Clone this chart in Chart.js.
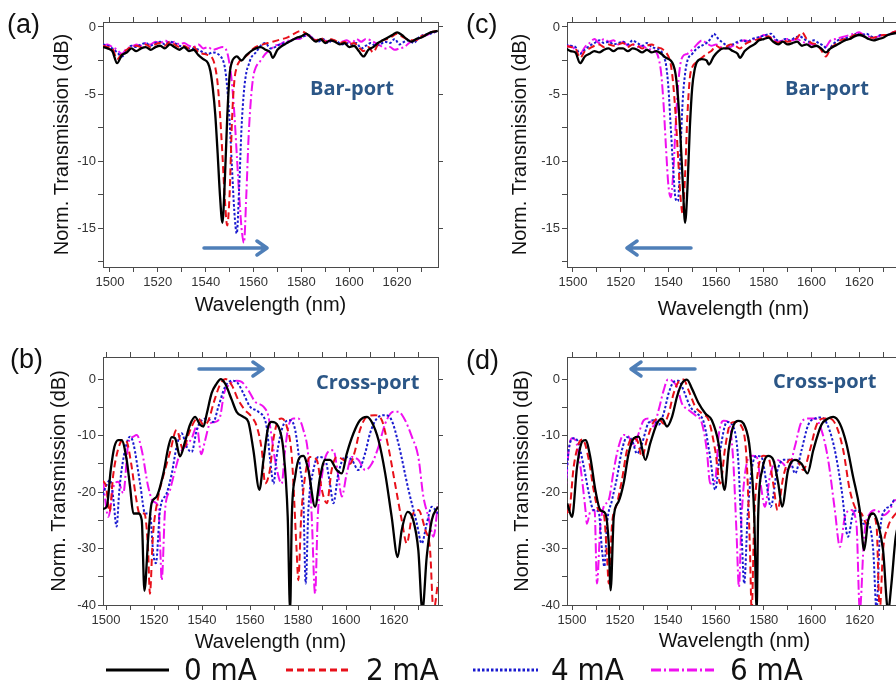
<!DOCTYPE html>
<html>
<head>
<meta charset="utf-8">
<script src="https://cdn.jsdelivr.net/npm/chart.js@4.4.1/dist/chart.umd.min.js"></script>
<style>
  html, body { margin: 0; padding: 0; background: #fff; overflow: hidden; }
  body { width: 896px; height: 685px; position: relative; }
  canvas { position: absolute; }
  .lbl { position: absolute; font-family: "Liberation Sans", Arial, sans-serif; font-size: 27px; color: #111; line-height: 30px; }
  .port { position: absolute; font-family: "Open Sans", sans-serif; font-weight: 700; font-size: 20px; color: #2b5686; line-height: 24px; white-space: nowrap; }
  .leg { position: absolute; font-family: "Liberation Sans Narrow", "DejaVu Sans Condensed", sans-serif; font-size: 31px; color: #111; line-height: 34px; top: 652px; }
  svg { position: absolute; left: 0; top: 0; }
</style>
</head>
<body>
<canvas id="pa" width="448" height="325" style="left:0;top:0"></canvas>
<canvas id="pc" width="446" height="325" style="left:464px;top:0"></canvas>
<canvas id="pb" width="448" height="330" style="left:0;top:330px"></canvas>
<canvas id="pd" width="448" height="330" style="left:464px;top:330px"></canvas>

<div class="lbl" style="left:7px;top:9px">(a)</div>
<div class="lbl" style="left:10px;top:344px">(b)</div>
<div class="lbl" style="left:466px;top:9px">(c)</div>
<div class="lbl" style="left:466px;top:345px">(d)</div>

<div class="port" style="left:310px;top:76px">Bar-port</div>
<div class="port" style="left:785px;top:76px">Bar-port</div>
<div class="port" style="left:316px;top:370px">Cross-port</div>
<div class="port" style="left:773px;top:369px">Cross-port</div>

<svg width="896" height="685">
  <g stroke="#4f7fb8" stroke-width="3.5" fill="none" stroke-linecap="round" stroke-linejoin="round">
    <path d="M204 248 L266 248 M257 241 L267 248 L257 255"/>
    <path d="M691 248 L628 248 M637 241 L627 248 L637 255"/>
    <path d="M199 369 L262 369 M253 362 L263 369 L253 376"/>
    <path d="M695 369 L632 369 M641 362 L631 369 L641 376"/>
  </g>
  <g stroke-width="3" fill="none">
    <line x1="106" y1="670" x2="169" y2="670" stroke="#000"/>
    <line x1="286" y1="670" x2="349" y2="670" stroke="#e8101a" stroke-dasharray="7 4"/>
    <line x1="473" y1="670" x2="538" y2="670" stroke="#1a1ad0" stroke-dasharray="2.5 2"/>
    <line x1="651" y1="670" x2="714" y2="670" stroke="#f010f0" stroke-dasharray="10 3 2 3"/>
  </g>
</svg>
<div class="leg" style="left:184px">0 mA</div>
<div class="leg" style="left:366px">2 mA</div>
<div class="leg" style="left:551px">4 mA</div>
<div class="leg" style="left:730px">6 mA</div>

<script>
// series names and tick labels
const currents = ['0 mA', '2 mA', '4 mA', '6 mA'];
const wlTicks = [1500, 1510, 1520, 1530, 1540, 1550, 1560, 1570, 1580, 1590, 1600, 1610, 1620, 1630];
const wlLabels = [1500, 1520, 1540, 1560, 1580, 1600, 1620];
const barTicks = [0, -2.5, -5, -7.5, -10, -12.5, -15, -17.5];
const barLabels = [0, -5, -10, -15];
const crossTicks = [0, -5, -10, -15, -20, -25, -30, -35, -40];
const crossLabels = [0, -10, -20, -30, -40];

// (a) bar-port, heating -> red shift   [wavelength nm, dB]
const barRed0 = [[1497,-1.5],[1499,-1.6],[1501,-1.8],[1503,-2.7],[1505,-2.1],[1507,-1.9],[1509,-1.6],[1511,-1.8],[1513,-1.6],[1515,-1.5],[1517,-1.7],[1519,-1.5],[1521,-1.4],[1523,-1.6],[1525,-1.3],[1527,-1.5],[1529,-1.7],[1531,-1.5],[1533,-1.8],[1535,-1.7],[1537,-2.1],[1539,-2.4],[1541,-2.7],[1542,-3.3],[1543,-4.6],[1544,-6.5],[1545,-9.4],[1546,-12.6],[1547,-14.6],[1548,-11.5],[1549,-6.8],[1550,-3.6],[1551,-2.6],[1552,-2.3],[1553,-2.2],[1555,-2.5],[1557,-2.1],[1559,-1.8],[1561,-1.6],[1563,-1.5],[1565,-1.7],[1567,-1.9],[1568,-2.3],[1570,-1.7],[1572,-1.4],[1574,-1.2],[1576,-1.0],[1578,-0.8],[1580,-0.7],[1582,-0.5],[1584,-0.8],[1586,-1.1],[1588,-0.9],[1590,-1.2],[1592,-1.0],[1594,-1.1],[1596,-1.3],[1598,-1.2],[1600,-1.5],[1602,-1.4],[1604,-1.8],[1606,-2.2],[1608,-1.7],[1610,-1.5],[1612,-1.2],[1614,-1.0],[1616,-0.8],[1618,-0.6],[1620,-0.4],[1622,-0.6],[1624,-0.9],[1626,-1.1],[1628,-0.9],[1630,-0.8],[1632,-0.6],[1634,-0.4],[1637,-0.3]];
const barRed2 = [[1497,-1.4],[1499,-1.5],[1501,-1.6],[1503,-2.4],[1505,-2.0],[1507,-1.7],[1509,-1.5],[1511,-1.4],[1513,-1.5],[1515,-1.3],[1517,-1.5],[1519,-1.3],[1521,-1.2],[1523,-1.4],[1525,-1.1],[1527,-1.3],[1529,-1.5],[1531,-1.4],[1533,-1.6],[1535,-1.5],[1537,-1.9],[1539,-2.0],[1541,-2.1],[1543,-2.4],[1544,-3.0],[1545,-4.2],[1546,-6.5],[1547,-9.5],[1548,-12.8],[1549,-14.8],[1550,-12.5],[1551,-7.0],[1552,-4.0],[1553,-3.0],[1554,-2.6],[1556,-2.3],[1558,-2.0],[1560,-1.6],[1562,-1.4],[1564,-1.3],[1566,-1.2],[1568,-1.1],[1570,-1.0],[1572,-0.9],[1574,-0.8],[1576,-0.6],[1578,-0.4],[1580,-0.3],[1582,-0.5],[1584,-0.8],[1586,-1.0],[1588,-0.8],[1590,-1.1],[1592,-0.9],[1594,-1.0],[1596,-1.2],[1598,-1.1],[1600,-1.3],[1602,-1.2],[1604,-1.5],[1606,-1.8],[1608,-1.5],[1610,-1.9],[1612,-1.3],[1614,-1.0],[1616,-0.9],[1618,-0.7],[1620,-0.5],[1622,-0.7],[1624,-0.9],[1626,-1.0],[1628,-1.0],[1630,-0.7],[1632,-0.6],[1634,-0.4],[1637,-0.3]];
const barRed4 = [[1497,-1.3],[1499,-1.4],[1501,-1.6],[1503,-1.9],[1505,-2.2],[1507,-1.8],[1509,-1.4],[1511,-1.5],[1513,-1.3],[1515,-1.2],[1517,-1.4],[1519,-1.2],[1521,-1.1],[1523,-1.3],[1525,-1.1],[1527,-1.2],[1529,-1.4],[1531,-1.5],[1533,-1.6],[1535,-1.6],[1537,-1.7],[1539,-1.9],[1541,-2.0],[1543,-1.9],[1545,-2.0],[1547,-2.4],[1548,-3.0],[1549,-4.5],[1550,-7.0],[1551,-10.5],[1552,-13.8],[1553,-15.4],[1554,-12.0],[1555,-7.5],[1556,-4.8],[1557,-3.4],[1558,-2.8],[1559,-2.3],[1561,-1.9],[1563,-1.4],[1565,-1.2],[1567,-1.6],[1569,-1.5],[1571,-1.3],[1573,-1.2],[1575,-1.1],[1577,-0.9],[1579,-0.8],[1581,-0.7],[1583,-0.6],[1585,-0.9],[1587,-1.1],[1589,-0.9],[1591,-1.2],[1593,-1.0],[1595,-1.1],[1597,-1.3],[1599,-1.2],[1601,-1.3],[1603,-1.2],[1605,-1.6],[1607,-1.4],[1609,-1.2],[1611,-1.4],[1613,-1.3],[1615,-1.1],[1617,-1.2],[1619,-0.9],[1621,-1.3],[1623,-1.1],[1625,-1.0],[1627,-1.2],[1629,-0.8],[1631,-0.6],[1634,-0.5],[1637,-0.3]];
const barRed6 = [[1497,-1.4],[1499,-1.3],[1501,-1.5],[1503,-1.7],[1505,-2.0],[1507,-1.6],[1509,-1.5],[1511,-1.3],[1513,-1.4],[1515,-1.2],[1517,-1.3],[1519,-1.1],[1521,-1.2],[1523,-1.0],[1525,-1.2],[1527,-1.1],[1529,-1.3],[1531,-1.2],[1533,-1.4],[1535,-1.5],[1537,-1.3],[1539,-1.6],[1541,-1.5],[1543,-1.7],[1545,-1.6],[1547,-1.5],[1549,-1.9],[1550,-2.8],[1551,-4.2],[1552,-6.5],[1553,-9.5],[1554,-12.5],[1555,-15.0],[1556,-16.1],[1557,-12.5],[1558,-8.0],[1559,-5.2],[1560,-3.6],[1561,-3.0],[1563,-2.5],[1565,-2.0],[1567,-1.7],[1569,-1.4],[1571,-1.3],[1573,-1.1],[1575,-1.0],[1577,-0.9],[1579,-0.9],[1581,-0.7],[1583,-0.6],[1585,-0.9],[1587,-1.0],[1589,-0.9],[1591,-1.1],[1593,-1.0],[1595,-1.2],[1597,-1.1],[1599,-1.0],[1601,-1.2],[1603,-0.9],[1605,-1.1],[1607,-0.9],[1609,-1.0],[1611,-1.2],[1613,-1.4],[1615,-1.6],[1617,-1.5],[1619,-1.7],[1621,-1.6],[1623,-1.5],[1625,-1.2],[1627,-1.0],[1629,-0.9],[1631,-0.7],[1634,-0.5],[1637,-0.3]];

// (c) bar-port, blue shift
const barBlue0 = [[1497,-1.6],[1499,-1.8],[1501,-1.9],[1503,-2.7],[1505,-2.2],[1507,-2.0],[1509,-1.8],[1511,-1.9],[1513,-1.7],[1515,-1.6],[1517,-1.8],[1519,-1.6],[1521,-1.6],[1523,-1.8],[1525,-1.6],[1527,-1.7],[1529,-1.9],[1531,-1.7],[1533,-1.9],[1535,-1.8],[1537,-2.0],[1539,-2.3],[1541,-2.5],[1542,-2.8],[1543,-3.5],[1544,-5.2],[1545,-8.0],[1546,-11.5],[1547,-14.6],[1548,-12.0],[1549,-7.5],[1550,-4.5],[1551,-3.2],[1552,-2.6],[1554,-2.4],[1556,-2.5],[1557,-2.8],[1559,-2.2],[1561,-1.8],[1563,-1.6],[1565,-1.6],[1567,-1.8],[1569,-2.0],[1570,-2.3],[1572,-1.8],[1574,-1.5],[1576,-1.3],[1578,-1.0],[1580,-0.9],[1582,-0.8],[1584,-1.1],[1586,-1.3],[1588,-1.1],[1590,-1.3],[1592,-1.2],[1594,-1.1],[1596,-1.4],[1598,-1.3],[1600,-1.5],[1602,-1.4],[1604,-1.6],[1606,-1.9],[1608,-1.6],[1610,-1.4],[1612,-1.2],[1614,-1.0],[1616,-0.9],[1618,-0.7],[1620,-0.6],[1622,-0.7],[1624,-0.9],[1626,-1.0],[1628,-0.9],[1630,-0.8],[1632,-0.6],[1634,-0.5],[1637,-0.4]];
const barBlue2 = [[1497,-1.4],[1499,-1.5],[1501,-1.6],[1503,-2.3],[1505,-1.8],[1507,-1.6],[1509,-1.4],[1511,-1.3],[1513,-1.5],[1515,-1.3],[1517,-1.4],[1519,-1.3],[1521,-1.2],[1523,-1.5],[1525,-1.3],[1527,-1.4],[1529,-1.6],[1531,-1.4],[1533,-1.3],[1535,-1.5],[1537,-1.6],[1539,-1.9],[1540,-2.2],[1541,-2.8],[1542,-4.2],[1543,-6.5],[1544,-9.5],[1545,-12.5],[1546,-13.9],[1547,-11.0],[1548,-6.5],[1549,-3.8],[1550,-3.0],[1552,-2.6],[1554,-2.3],[1556,-2.0],[1558,-1.8],[1560,-1.4],[1562,-1.6],[1564,-1.5],[1566,-1.3],[1568,-1.4],[1570,-1.6],[1572,-1.3],[1574,-1.1],[1576,-1.0],[1578,-0.9],[1580,-0.8],[1582,-0.7],[1584,-1.0],[1586,-1.2],[1588,-1.0],[1590,-1.1],[1592,-1.0],[1594,-0.8],[1596,-0.4],[1598,-0.9],[1600,-1.2],[1602,-1.3],[1604,-1.7],[1606,-2.2],[1608,-1.6],[1610,-1.3],[1612,-1.0],[1614,-0.9],[1616,-0.8],[1618,-0.6],[1620,-0.5],[1622,-0.7],[1624,-0.8],[1626,-0.8],[1628,-0.7],[1630,-0.6],[1632,-0.6],[1634,-0.4],[1637,-0.3]];
const barBlue4 = [[1497,-1.3],[1499,-1.4],[1501,-1.5],[1503,-2.0],[1505,-1.7],[1507,-1.4],[1509,-1.2],[1511,-1.0],[1513,-1.2],[1515,-1.1],[1517,-1.3],[1519,-1.2],[1521,-1.1],[1523,-1.3],[1525,-1.0],[1527,-1.2],[1529,-1.4],[1531,-1.2],[1533,-1.5],[1535,-1.6],[1537,-1.8],[1538,-2.2],[1539,-2.8],[1540,-4.5],[1541,-7.5],[1542,-10.5],[1543,-12.8],[1544,-13.0],[1545,-9.5],[1546,-5.5],[1547,-3.5],[1548,-2.5],[1550,-2.0],[1552,-1.6],[1554,-1.4],[1556,-1.2],[1558,-0.8],[1559,-0.5],[1561,-0.9],[1563,-1.2],[1565,-1.4],[1567,-1.3],[1569,-1.1],[1571,-1.0],[1573,-1.1],[1575,-0.9],[1577,-0.8],[1579,-0.7],[1581,-0.6],[1583,-0.5],[1585,-0.9],[1587,-1.1],[1589,-0.9],[1591,-1.0],[1593,-0.8],[1595,-0.7],[1597,-0.9],[1599,-1.1],[1601,-1.0],[1603,-1.2],[1605,-1.4],[1607,-1.7],[1609,-1.3],[1611,-1.0],[1613,-0.9],[1615,-0.8],[1617,-0.7],[1619,-0.5],[1621,-0.6],[1623,-0.5],[1625,-0.7],[1627,-0.8],[1629,-0.6],[1631,-0.6],[1634,-0.5],[1637,-0.3]];
const barBlue6 = [[1497,-1.5],[1499,-1.4],[1501,-1.7],[1503,-2.0],[1505,-1.5],[1507,-1.2],[1509,-0.9],[1511,-1.2],[1513,-0.9],[1515,-1.1],[1517,-1.0],[1519,-1.3],[1521,-1.1],[1523,-1.4],[1525,-1.3],[1527,-1.5],[1529,-1.4],[1531,-1.6],[1533,-1.7],[1535,-1.9],[1536,-2.4],[1537,-3.5],[1538,-5.8],[1539,-9.0],[1540,-11.8],[1541,-12.7],[1542,-11.0],[1543,-7.5],[1544,-4.5],[1545,-2.8],[1546,-2.2],[1548,-2.0],[1550,-1.7],[1552,-1.3],[1554,-1.0],[1556,-1.2],[1558,-1.4],[1560,-1.3],[1562,-1.5],[1564,-1.6],[1566,-1.5],[1568,-1.3],[1570,-1.1],[1572,-1.0],[1574,-1.1],[1576,-0.9],[1578,-0.8],[1580,-0.6],[1582,-0.7],[1584,-0.9],[1586,-1.1],[1588,-1.0],[1590,-0.9],[1592,-1.0],[1594,-0.9],[1596,-1.1],[1598,-1.2],[1600,-1.3],[1602,-1.4],[1604,-1.6],[1606,-1.5],[1608,-1.0],[1610,-0.9],[1612,-0.8],[1614,-0.7],[1616,-0.6],[1618,-0.5],[1620,-0.4],[1622,-0.6],[1624,-0.7],[1626,-0.8],[1628,-0.7],[1630,-0.6],[1632,-0.6],[1634,-0.4],[1637,-0.3]];

// (b) cross-port, red shift
const crossRed0 = [[1498.7,-23],[1500.3,-22.6],[1502,-16],[1503.5,-12],[1505.1,-10.8],[1506.5,-10.8],[1508.6,-14.3],[1510,-19],[1511.4,-23.8],[1513.5,-23.8],[1514.9,-25],[1516,-37.5],[1517.6,-28],[1519,-22],[1521.1,-20.8],[1523.9,-16.7],[1526,-12],[1527.4,-10.3],[1528.8,-10.5],[1530.8,-13.7],[1532.9,-11.1],[1535,-8.1],[1537.1,-6.7],[1539.2,-8.1],[1540.6,-8.4],[1542,-6.1],[1544,-2.5],[1546.1,-0.8],[1547.8,0],[1549.6,-0.8],[1552.4,-3.7],[1554.4,-5.8],[1557.2,-6.7],[1559.3,-7.6],[1561.4,-12.6],[1563.9,-19.6],[1565.6,-14.3],[1567.6,-8.4],[1569,-7.6],[1571.8,-8.4],[1573.9,-12.6],[1575.7,-24.4],[1576.7,-41],[1577.4,-24.4],[1578.8,-17.3],[1580.8,-13.8],[1582.2,-13.6],[1584.3,-16.1],[1587.1,-22.6],[1589.2,-17.3],[1591.3,-14.3],[1593.3,-14.3],[1596.1,-16.1],[1598.2,-16.7],[1600.3,-13.2],[1603.1,-9.6],[1605.8,-7.3],[1608.6,-6.7],[1610.7,-7.6],[1613.5,-10.8],[1616.3,-16.7],[1619,-24.4],[1621.5,-31.5],[1623.2,-26.7],[1625.7,-23.5],[1628,-25],[1630.1,-30.3],[1631.8,-41],[1633.6,-31.5],[1635.7,-25],[1638.3,-22.6]];
const crossRed2 = [[1498.7,-18],[1500,-19],[1501.5,-23.5],[1503,-17],[1505,-12.5],[1507,-10.8],[1508.5,-11],[1510.5,-15],[1512.5,-21],[1514,-23.8],[1516,-23.8],[1517.5,-30],[1518.3,-38],[1519.5,-28],[1521.8,-20.8],[1524,-17],[1526.7,-12.9],[1529.4,-9],[1532.2,-12.6],[1534.3,-9.9],[1537.1,-7.3],[1538.5,-7],[1540.6,-8.1],[1542.5,-7.5],[1545,-4],[1547.5,-1],[1549.8,0],[1552.4,-1.1],[1555.1,-3.7],[1557.9,-5.5],[1560.7,-6.7],[1562.8,-8.4],[1564.9,-12.6],[1566.3,-18.5],[1568.3,-16],[1569.7,-10.8],[1571.8,-7.3],[1573.2,-7],[1575.3,-8.4],[1577.4,-13.8],[1579.4,-30.3],[1580.1,-35.6],[1581.3,-24.4],[1582.9,-17.3],[1585,-13.8],[1587.8,-14.3],[1589.9,-19.6],[1592,-22],[1594,-16.1],[1596.1,-13.8],[1598.9,-14.3],[1601.7,-15],[1603.8,-12.6],[1605.8,-9],[1608.6,-6.7],[1612.1,-6.4],[1614.9,-7.3],[1617.6,-12],[1620.4,-18.5],[1623.2,-25],[1625.3,-29.1],[1627.4,-24.4],[1630.1,-23.2],[1633,-26.7],[1635,-30.3],[1636.4,-41],[1638.3,-36]];
const crossRed4 = [[1498.7,-20.5],[1500,-19],[1501.7,-17.9],[1503,-21],[1504.4,-26.1],[1505.5,-20],[1506.5,-16.1],[1508.6,-11.4],[1510,-10.2],[1511.4,-11.4],[1514.2,-18.5],[1516.3,-23.8],[1518.3,-23.8],[1519.7,-30.9],[1520.8,-32.6],[1522.5,-23.2],[1525.3,-20.2],[1527.4,-16.7],[1529.4,-12],[1531.5,-9.6],[1533.6,-12],[1535.7,-12.9],[1537.8,-9],[1539.9,-7.3],[1542,-7],[1544.7,-7.6],[1546.8,-4.9],[1549.6,-1.4],[1552.4,-0.3],[1554.4,-0.5],[1557.2,-2.5],[1560,-4.9],[1563.5,-5.8],[1566.9,-8.4],[1568.3,-14],[1569.8,-18.5],[1571,-14],[1572.5,-10.2],[1574.6,-7.6],[1576.7,-7.3],[1578.8,-9],[1580.8,-15.5],[1582.2,-21.4],[1583.2,-36.2],[1584.3,-23.2],[1586.4,-16.1],[1588.5,-13.8],[1591.3,-14.3],[1593.3,-18.5],[1594.7,-22],[1596.8,-16.7],[1599.6,-13.8],[1602.4,-14.3],[1605.1,-16.1],[1607.9,-13.2],[1610,-9.6],[1612.8,-7],[1616.3,-6.4],[1619,-7.3],[1621.8,-11.4],[1626,-19.6],[1629.5,-25.6],[1631.5,-29.1],[1633.6,-25.6],[1635.7,-22.6],[1638.3,-23.8]];
const crossRed6 = [[1498.7,-18],[1501,-24.4],[1503.1,-19.1],[1505.1,-18.2],[1507.2,-20.2],[1509.3,-11.4],[1511.4,-10.2],[1512.8,-9.9],[1514.9,-12.6],[1517.6,-19.1],[1519.7,-21.7],[1521.8,-22.6],[1522.6,-30],[1523.2,-35.6],[1524.6,-23.2],[1526.7,-19.6],[1528.8,-16.1],[1530.8,-13.2],[1532.9,-12],[1535.7,-10.5],[1537.8,-8.4],[1539.7,-13.3],[1541.2,-11],[1543.3,-7.9],[1545.4,-7.6],[1547.5,-6.7],[1549.2,-2.5],[1551,-1.1],[1554.4,-0.3],[1556.5,-0.5],[1559.3,-2],[1562.1,-4],[1565.6,-4.9],[1567.6,-6.5],[1569,-10.2],[1570.4,-14.3],[1573.2,-18.5],[1574.5,-13],[1576,-8.4],[1578.1,-7],[1580.1,-7],[1582.2,-9],[1584.3,-13.8],[1585.7,-24.4],[1587.1,-38],[1588.2,-24.4],[1589.9,-17.3],[1592,-13.2],[1594.7,-12.6],[1596.8,-17.3],[1598.2,-20.8],[1600.3,-16.7],[1602.4,-13.8],[1605.1,-14.3],[1608,-16.1],[1610.7,-15],[1613.5,-12],[1616.3,-7.9],[1619.7,-5.8],[1621.8,-5.8],[1624.6,-7.3],[1627.4,-10.2],[1630.1,-13.8],[1632.2,-20.8],[1634.3,-24.4],[1636.4,-27.9],[1638.3,-22]];

// (d) cross-port, blue shift
const crossBlue0 = [[1498,-22],[1500,-24.4],[1502.1,-15.5],[1504.2,-11.1],[1505.6,-10.8],[1507.6,-13.8],[1509.7,-19.6],[1511.8,-23.2],[1513.9,-23.8],[1515.3,-29.1],[1516.1,-37.4],[1517.4,-24.4],[1519.4,-21.7],[1521.5,-18.5],[1523.6,-13.2],[1525.7,-10.5],[1527.8,-10.2],[1530.6,-14.3],[1532.6,-11.4],[1535.4,-7.9],[1537.5,-7],[1539.6,-8.4],[1541.7,-6.7],[1543.8,-3.1],[1545.8,-0.8],[1547.9,-0.1],[1550,-1.7],[1552.8,-4.3],[1555.6,-6.1],[1558.3,-7.3],[1561.1,-11.4],[1563.6,-19.6],[1565.3,-12.6],[1567.4,-8.1],[1569.3,-7.4],[1572.1,-8.4],[1574.2,-12.6],[1576,-24.4],[1577,-41],[1577.6,-24.4],[1579.3,-16.1],[1581.8,-13.6],[1583.9,-14.3],[1586,-18.5],[1587.6,-22.6],[1590.1,-16.1],[1592.9,-14.3],[1595.7,-15],[1598.2,-16.7],[1600.6,-12.6],[1604,-8.1],[1606.8,-7],[1608.9,-6.7],[1611.7,-7.9],[1614.4,-11.4],[1617.2,-17.3],[1620,-23.2],[1621.8,-30.3],[1623.5,-25],[1625.6,-23.8],[1627.6,-25.6],[1629.7,-30.3],[1631.8,-41],[1633.2,-36.2],[1635,-27.9],[1638,-24]];
const crossBlue2 = [[1497.2,-22.6],[1498.6,-23.8],[1500.7,-15.5],[1502.8,-11.4],[1504.4,-10.7],[1507,-14.3],[1509,-19.6],[1511.1,-23.2],[1513.2,-23.8],[1514.6,-31.5],[1515.3,-36.2],[1516.7,-25.6],[1518.8,-22],[1520.8,-17.9],[1522.9,-12.6],[1525,-10.5],[1527.1,-10.8],[1529.2,-13.8],[1531.2,-10.8],[1534,-7.6],[1536.1,-7],[1538.2,-7.9],[1540.3,-6.1],[1542.4,-2.5],[1544.4,-0.5],[1546.5,-0.1],[1548.6,-2],[1551.4,-4.9],[1554.2,-6.1],[1557,-7.3],[1559.7,-12.6],[1561.8,-18.5],[1563.9,-12],[1566,-7.9],[1567.9,-7.6],[1570.7,-8.4],[1572.8,-14.3],[1574.2,-30.3],[1574.9,-41],[1576,-24.4],[1577.6,-16.1],[1579.7,-13.6],[1581.8,-13.8],[1583.9,-18.5],[1585.7,-23.2],[1588.1,-17.3],[1590.8,-14.3],[1593.6,-14.3],[1596.4,-16.1],[1599.2,-12.6],[1602,-8.1],[1604.7,-7],[1607.5,-7],[1610.3,-8.4],[1613.1,-12.6],[1615.8,-19.6],[1618.6,-23.2],[1620.7,-23.8],[1622.8,-25.6],[1624.9,-23.8],[1627,-26.1],[1628.3,-41],[1629.7,-30.3],[1631.8,-26.1],[1633.9,-24.4],[1637,-23]];
const crossBlue4 = [[1497,-20.8],[1498.6,-12.6],[1500.7,-10.5],[1502.1,-10.8],[1504.9,-15.5],[1507,-20.2],[1509,-23.2],[1511.1,-23.5],[1512.5,-30.3],[1513.5,-33.2],[1514.6,-25.6],[1516.7,-21.4],[1518.8,-17.3],[1520.8,-12.6],[1522.9,-10.3],[1525,-10.8],[1527.1,-13.2],[1529.2,-11.4],[1531.7,-7.9],[1534,-7.3],[1536.1,-8.1],[1538.2,-6.1],[1540.3,-2.5],[1542.4,-0.5],[1544.4,-0.3],[1546.5,-2],[1549.3,-4.9],[1552.1,-6.1],[1554.9,-7.6],[1557.6,-13.8],[1559.7,-19.6],[1561.8,-12.6],[1564.6,-7.6],[1567.2,-8.4],[1569.3,-14.3],[1570.7,-27.3],[1571.8,-36.2],[1573.2,-24.4],[1574.9,-16.1],[1577,-13.6],[1579,-13.8],[1581.1,-18.5],[1582.9,-22.6],[1585.3,-16.7],[1588.1,-14.3],[1590.8,-14.3],[1593,-16.7],[1595.7,-12.6],[1598.5,-8.1],[1601.3,-7],[1604,-6.8],[1606.8,-8.4],[1609.6,-12.6],[1612.4,-19.6],[1615.1,-27.9],[1617.2,-23.8],[1619.3,-23.2],[1621.4,-25.6],[1623.5,-25.6],[1625.6,-30.3],[1627,-41],[1628.3,-27.9],[1630.4,-23.2],[1632.5,-22.6],[1634.6,-21.4],[1637.5,-22]];
const crossBlue6 = [[1497.2,-20.8],[1498.6,-12.6],[1500,-10.5],[1501.4,-10.8],[1503.5,-15.5],[1505.6,-23.2],[1506.2,-25.6],[1507.6,-23.5],[1509.4,-23.2],[1510.4,-36.2],[1511.8,-26.1],[1513.2,-22.6],[1515.3,-21.4],[1517.4,-16.1],[1519.4,-12],[1521.5,-9.9],[1523.6,-10.2],[1525.7,-12],[1527.8,-9.6],[1529.9,-7.3],[1531.9,-7],[1534,-8.4],[1536.1,-5.5],[1538.2,-2],[1540,-0.1],[1541.7,-0.3],[1543.8,-1.4],[1545.8,-4.3],[1548.6,-5.5],[1551.4,-6.4],[1554.2,-7.9],[1556.2,-12.6],[1557.6,-18.5],[1559.7,-17.9],[1561.1,-10.2],[1563.2,-7.4],[1565.3,-7.6],[1567.2,-14.3],[1568.6,-27.3],[1569.6,-36.8],[1570.7,-24.4],[1572.8,-15],[1574.9,-13.6],[1577,-13.8],[1579,-19.6],[1580.4,-22.6],[1582.5,-17.3],[1585.3,-14.3],[1588.1,-15],[1590.1,-16.1],[1592.9,-12],[1595.7,-7.6],[1598.5,-7],[1601.3,-7],[1604,-9],[1606.8,-14.3],[1609.6,-23.2],[1611.7,-29.7],[1613.8,-24.4],[1616.3,-23.2],[1618.6,-25.6],[1620,-41],[1621.8,-27.9],[1624.2,-23.8],[1627,-23.2],[1629.7,-24.1],[1632.5,-23.2],[1634.6,-21.4],[1637.5,-22]];

// line styles per current
const lineColors = ['#000000', '#e8101a', '#1a1ad0', '#f010f0'];
const lineDash = [[], [7, 4], [2.5, 2], [10, 3, 2, 3]];
const lineWidth = [2.3, 2, 2, 2];

const frame = '#4a4a4a';
const tickFont = { family: 'Liberation Sans, Arial, sans-serif', size: 13 };
const titleFont = { family: 'Liberation Sans, Arial, sans-serif', size: 20 };

function fixedTicks(list) {
  return s => { s.ticks = list.filter(v => v >= s.min && v <= s.max).map(v => ({ value: v })); };
}

function makePanel(id, curves, p) {
  const datasets = curves.map((c, i) => ({
    label: currents[i],
    data: c,
    borderColor: lineColors[i],
    borderDash: lineDash[i],
    borderWidth: lineWidth[i],
    pointRadius: 0,
    fill: false,
    cubicInterpolationMode: 'monotone'
  }));
  const grid = { drawOnChartArea: false, drawTicks: true, tickLength: 5, color: frame, tickColor: frame };
  const border = { display: true, color: frame, width: 1 };
  new Chart(document.getElementById(id), {
    type: 'line',
    data: { datasets },
    options: {
      responsive: false,
      animation: false,
      devicePixelRatio: 1,
      layout: { padding: 0 },
      plugins: { legend: { display: false }, tooltip: { enabled: false } },
      scales: {
        x: {
          type: 'linear', position: 'bottom', min: p.xMin, max: p.xMax,
          afterBuildTicks: fixedTicks(wlTicks),
          afterFit: s => { s.height = p.bottom; },
          grid, border,
          ticks: { autoSkip: false, maxRotation: 0, padding: 3, color: '#333', font: tickFont,
                   callback: v => wlLabels.includes(v) ? String(v) : '' },
          title: { display: true, text: 'Wavelength (nm)', color: '#111', font: titleFont,
                   padding: { top: 0, bottom: p.xTitlePad } }
        },
        x2: {
          type: 'linear', position: 'top', min: p.xMin, max: p.xMax,
          afterBuildTicks: fixedTicks(wlTicks),
          afterFit: s => { s.height = p.top; },
          grid, border, ticks: { display: false }
        },
        y: {
          type: 'linear', position: 'left', min: p.yMin, max: p.yMax,
          afterBuildTicks: fixedTicks(p.yTicks),
          afterFit: s => { s.width = p.left; },
          grid, border,
          ticks: { autoSkip: false, padding: 2, color: '#333', font: tickFont,
                   callback: v => p.yLabels.includes(v) ? String(v) : '' },
          title: { display: true, text: 'Norm. Transmission (dB)', color: '#111', font: titleFont,
                   padding: { top: p.yTitlePad, bottom: 0 } }
        },
        y2: {
          type: 'linear', position: 'right', min: p.yMin, max: p.yMax,
          afterBuildTicks: fixedTicks(p.yLabels),
          afterFit: s => { s.width = p.right; },
          grid, border, ticks: { display: false }
        }
      }
    }
  });
}

makePanel('pa', [barRed0, barRed2, barRed4, barRed6], {
  xMin: 1497.1, xMax: 1637.1, yMin: -17.9, yMax: 0.37, yTicks: barTicks, yLabels: barLabels,
  left: 103, right: 10, top: 22, bottom: 58, xTitlePad: 7.6, yTitlePad: 50.6
});
makePanel('pc', [barBlue0, barBlue2, barBlue4, barBlue6], {
  xMin: 1497.5, xMax: 1637.1, yMin: -17.9, yMax: 0.37, yTicks: barTicks, yLabels: barLabels,
  left: 103, right: 10, top: 22, bottom: 58, xTitlePad: 3.6, yTitlePad: 44.6
});
makePanel('pb', [crossRed0, crossRed2, crossRed4, crossRed6], {
  xMin: 1498.75, xMax: 1638.3, yMin: -40, yMax: 3.9, yTicks: crossTicks, yLabels: crossLabels,
  left: 103, right: 10, top: 27, bottom: 55, xTitlePad: 6, yTitlePad: 47.6
});
makePanel('pd', [crossBlue0, crossBlue2, crossBlue4, crossBlue6], {
  xMin: 1497.9, xMax: 1637.6, yMin: -40, yMax: 3.9, yTicks: crossTicks, yLabels: crossLabels,
  left: 103, right: 10, top: 27, bottom: 55, xTitlePad: 7, yTitlePad: 46
});
</script>
</body>
</html>
